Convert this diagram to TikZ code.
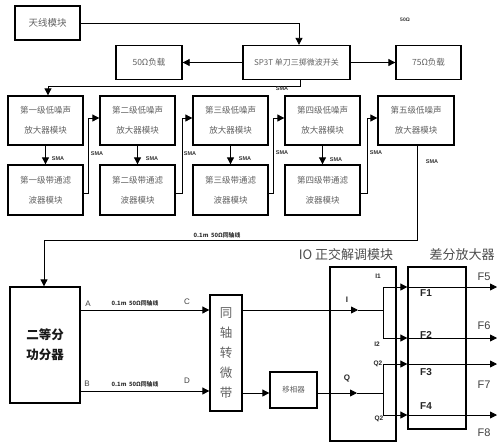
\documentclass[tikz,border=0pt]{standalone}
\usepackage{fontspec}
\setmainfont{Noto Sans CJK SC}
\newfontfamily\lat{Liberation Sans}
\usetikzlibrary{arrows.meta}
\begin{document}
\begin{tikzpicture}[x=1pt,y=-1pt,
  box/.style={draw, line width=1.3pt, inner sep=0pt, align=center, text=black!62,
    font=\fontsize{8.5}{20}\selectfont},
  wire/.style={line width=0.8pt},
  arr/.style={wire, -{Triangle[length=7pt,width=7pt]}},
  sma/.style={font=\lat\bfseries\fontsize{5.5}{6}\selectfont, text=black!80},
  coaxlbl/.style={font=\bfseries\fontsize{5.8}{7}\selectfont, text=black!80},
  abcd/.style={font=\lat\fontsize{8}{9}\selectfont, text=black!75},
  iq/.style={font=\lat\bfseries\fontsize{6.5}{7}\selectfont, text=black!85},
  flbl/.style={font=\lat\fontsize{11}{12}\selectfont, text=black!75},
  fin/.style={font=\lat\bfseries\fontsize{10}{11}\selectfont, text=black!85},
  title/.style={font=\fontsize{13}{14}\selectfont, text=black!70}
]
\useasboundingbox (0,0) rectangle (502,445);

% top row
\node[box, minimum width=65pt, minimum height=34pt, font=\fontsize{9.5}{11}\selectfont] (ant) at (47.5,23) {天线模块};
\node[box, minimum width=66pt, minimum height=34pt] (l50) at (149,62.5) {50Ω负载};
\node[box, minimum width=107pt, minimum height=34pt, font=\fontsize{8}{10}\selectfont] (sw) at (296.5,62.5) {SP3T 单刀三掷微波开关};
\node[box, minimum width=65pt, minimum height=34pt] (l75) at (428.5,62.5) {75Ω负载};
\node[sma, font=\lat\bfseries\fontsize{5}{6}\selectfont] (ohm) at (405,20) {50Ω};

% LNA row
\node[box, minimum width=75pt, minimum height=49pt] (lna1) at (45.5,120.5) {第一级低噪声\\放大器模块};
\node[box, minimum width=75pt, minimum height=49pt] (lna2) at (137.5,120.5) {第二级低噪声\\放大器模块};
\node[box, minimum width=75pt, minimum height=49pt] (lna3) at (230.5,120.5) {第三级低噪声\\放大器模块};
\node[box, minimum width=75pt, minimum height=49pt] (lna4) at (322.5,120.5) {第四级低噪声\\放大器模块};
\node[box, minimum width=76pt, minimum height=49pt] (lna5) at (416,120.5) {第五级低噪声\\放大器模块};

% BPF row
\node[box, minimum width=75pt, minimum height=50pt] (bpf1) at (45.5,190) {第一级带通滤\\波器模块};
\node[box, minimum width=75pt, minimum height=50pt] (bpf2) at (137.5,190) {第二级带通滤\\波器模块};
\node[box, minimum width=75pt, minimum height=50pt] (bpf3) at (230.5,190) {第三级带通滤\\波器模块};
\node[box, minimum width=75pt, minimum height=50pt] (bpf4) at (322.5,190) {第四级带通滤\\波器模块};

% lower part
\node[box, minimum width=70pt, minimum height=116pt, text=black!90,
  font=\bfseries\fontsize{12.5}{20}\selectfont] (div) at (45,345) {二等分\\功分器};
\node[box, minimum width=32pt, minimum height=116pt,
  font=\fontsize{12.5}{20}\selectfont] (coax) at (226,353) {同\\轴\\转\\微\\带};
\node[box, minimum width=47pt, minimum height=36pt, font=\fontsize{7.5}{9}\selectfont] (ps) at (293.5,390) {移相器};
\node[box, minimum width=66pt, minimum height=174pt] (iqm) at (363,354) {};
\node[box, minimum width=58pt, minimum height=162pt] (diff) at (437,348) {};
\node[title] (t1) at (346,255) {IO 正交解调模块};
\node[title] (t2) at (462,255) {差分放大器};

% top connectors
\draw[arr] (ant.east) -| ([xshift=2.5pt]sw.north);
\draw[arr] (sw.west) -- (l50.east);
\draw[arr] (sw.east) -- (l75.west);
\draw[arr] ([xshift=3.5pt]sw.south) -- ++(0,6) -| ([xshift=2.5pt]lna1.north);
\node[sma] (s0) at (282,89) {SMA};

% LNA -> BPF
\draw[arr] (lna1) -- (bpf1);
\draw[arr] (lna2) -- (bpf2);
\draw[arr] (lna3) -- (bpf3);
\draw[arr] (lna4) -- (bpf4);
\node[sma] (s1) at (58,159) {SMA};
\node[sma] (s2) at (152,159) {SMA};
\node[sma] (s3) at (245,159) {SMA};
\node[sma] (s4) at (336,160) {SMA};

% BPF -> next LNA
\draw[arr] ([yshift=-3pt]bpf1.east) -- ++(5,0) |- ([yshift=2.5pt]lna2.west);
\draw[arr] ([yshift=-3pt]bpf2.east) -- ++(7,0) |- ([yshift=2.5pt]lna3.west);
\draw[arr] ([yshift=-3pt]bpf3.east) -- ++(5,0) |- ([yshift=2.5pt]lna4.west);
\draw[arr] ([yshift=-3pt]bpf4.east) -- ++(7,0) |- ([yshift=2.5pt]lna5.west);
\node[sma] (s5) at (97,154) {SMA};
\node[sma] (s6) at (190,154) {SMA};
\node[sma] (s7) at (282,153) {SMA};
\node[sma] (s8) at (376,153) {SMA};

% LNA5 -> divider
\coordinate (k1) at (417,240);
\coordinate (k2) at (44,240);
\draw[arr] (lna5.south -| k1) -- (k1) -- (k2) -- (k2 |- div.north);
\node[sma] (s9) at (432,162) {SMA};
\node[coaxlbl] (c0) at (217,235) {0.1m\ \ 50Ω同轴线};

% divider -> coax/microstrip
\coordinate (yA) at (0,310);
\coordinate (yB) at (0,391);
\draw[arr] (div.east |- yA) -- (coax.west |- yA);
\draw[arr] (div.east |- yB) -- (coax.west |- yB);
\node[abcd] (lA) at (88,304) {A};
\node[abcd] (lB) at (87,384) {B};
\node[abcd] (lC) at (187,302) {C};
\node[abcd] (lD) at (187,381) {D};
\node[coaxlbl] (c1) at (135,303) {0.1m\ \ 50Ω同轴线};
\node[coaxlbl] (c2) at (135,384) {0.1m\ \ 50Ω同轴线};

% I path
\coordinate (aI) at (358,310);
\coordinate (jI) at (383,310);
\coordinate (i1) at (383,287);
\coordinate (i2) at (383,338);
\coordinate (o1) at (497,287);
\coordinate (o2) at (497,338);
\draw[arr] (coax.east |- jI) -- (aI);
\draw[wire] (aI) -- (jI);
\draw[wire] (i1) -- (i2);
\draw[arr] (i1) -- (diff.west |- i1);
\draw[arr] (diff.west |- i1) -- (o1);
\draw[arr] (i2) -- (diff.west |- i2);
\draw[arr] (diff.west |- i2) -- (o2);

% Q path
\coordinate (yQ) at (0,393);
\coordinate (aQ) at (357,393);
\coordinate (jQ) at (383,393);
\coordinate (q1) at (383,364);
\coordinate (q2) at (383,415);
\coordinate (o3) at (497,364);
\coordinate (o4) at (497,415);
\draw[arr] (coax.east |- yQ) -- (ps.west |- yQ);
\draw[arr] (ps.east |- yQ) -- (aQ);
\draw[wire] (aQ) -- (jQ);
\draw[wire] (q1) -- (q2);
\draw[arr] (q1) -- (diff.west |- q1);
\draw[arr] (diff.west |- q1) -- (o3);
\draw[arr] (q2) -- (diff.west |- q2);
\draw[arr] (diff.west |- q2) -- (o4);

% IQ labels
\node[iq, font=\lat\bfseries\fontsize{8}{9}\selectfont] (lI) at (347,300) {I};
\node[iq, font=\lat\bfseries\fontsize{8}{9}\selectfont] (lQ) at (347,378) {Q};
\node[iq] (lI1) at (378,276) {I1};
\node[iq] (lI2) at (377,344) {I2};
\node[iq] (lQ2a) at (378,364) {Q2};
\node[iq] (lQ2b) at (379,419) {Q2};

% F labels
\node[fin] (F1) at (426,293) {F1};
\node[fin] (F2) at (426,335) {F2};
\node[fin] (F3) at (426,372) {F3};
\node[fin] (F4) at (426,406) {F4};
\node[flbl] (F5) at (484,277) {F5};
\node[flbl] (F6) at (484,326) {F6};
\node[flbl] (F7) at (484,385) {F7};
\node[flbl] (F8) at (484,433) {F8};
\end{tikzpicture}
\end{document}
